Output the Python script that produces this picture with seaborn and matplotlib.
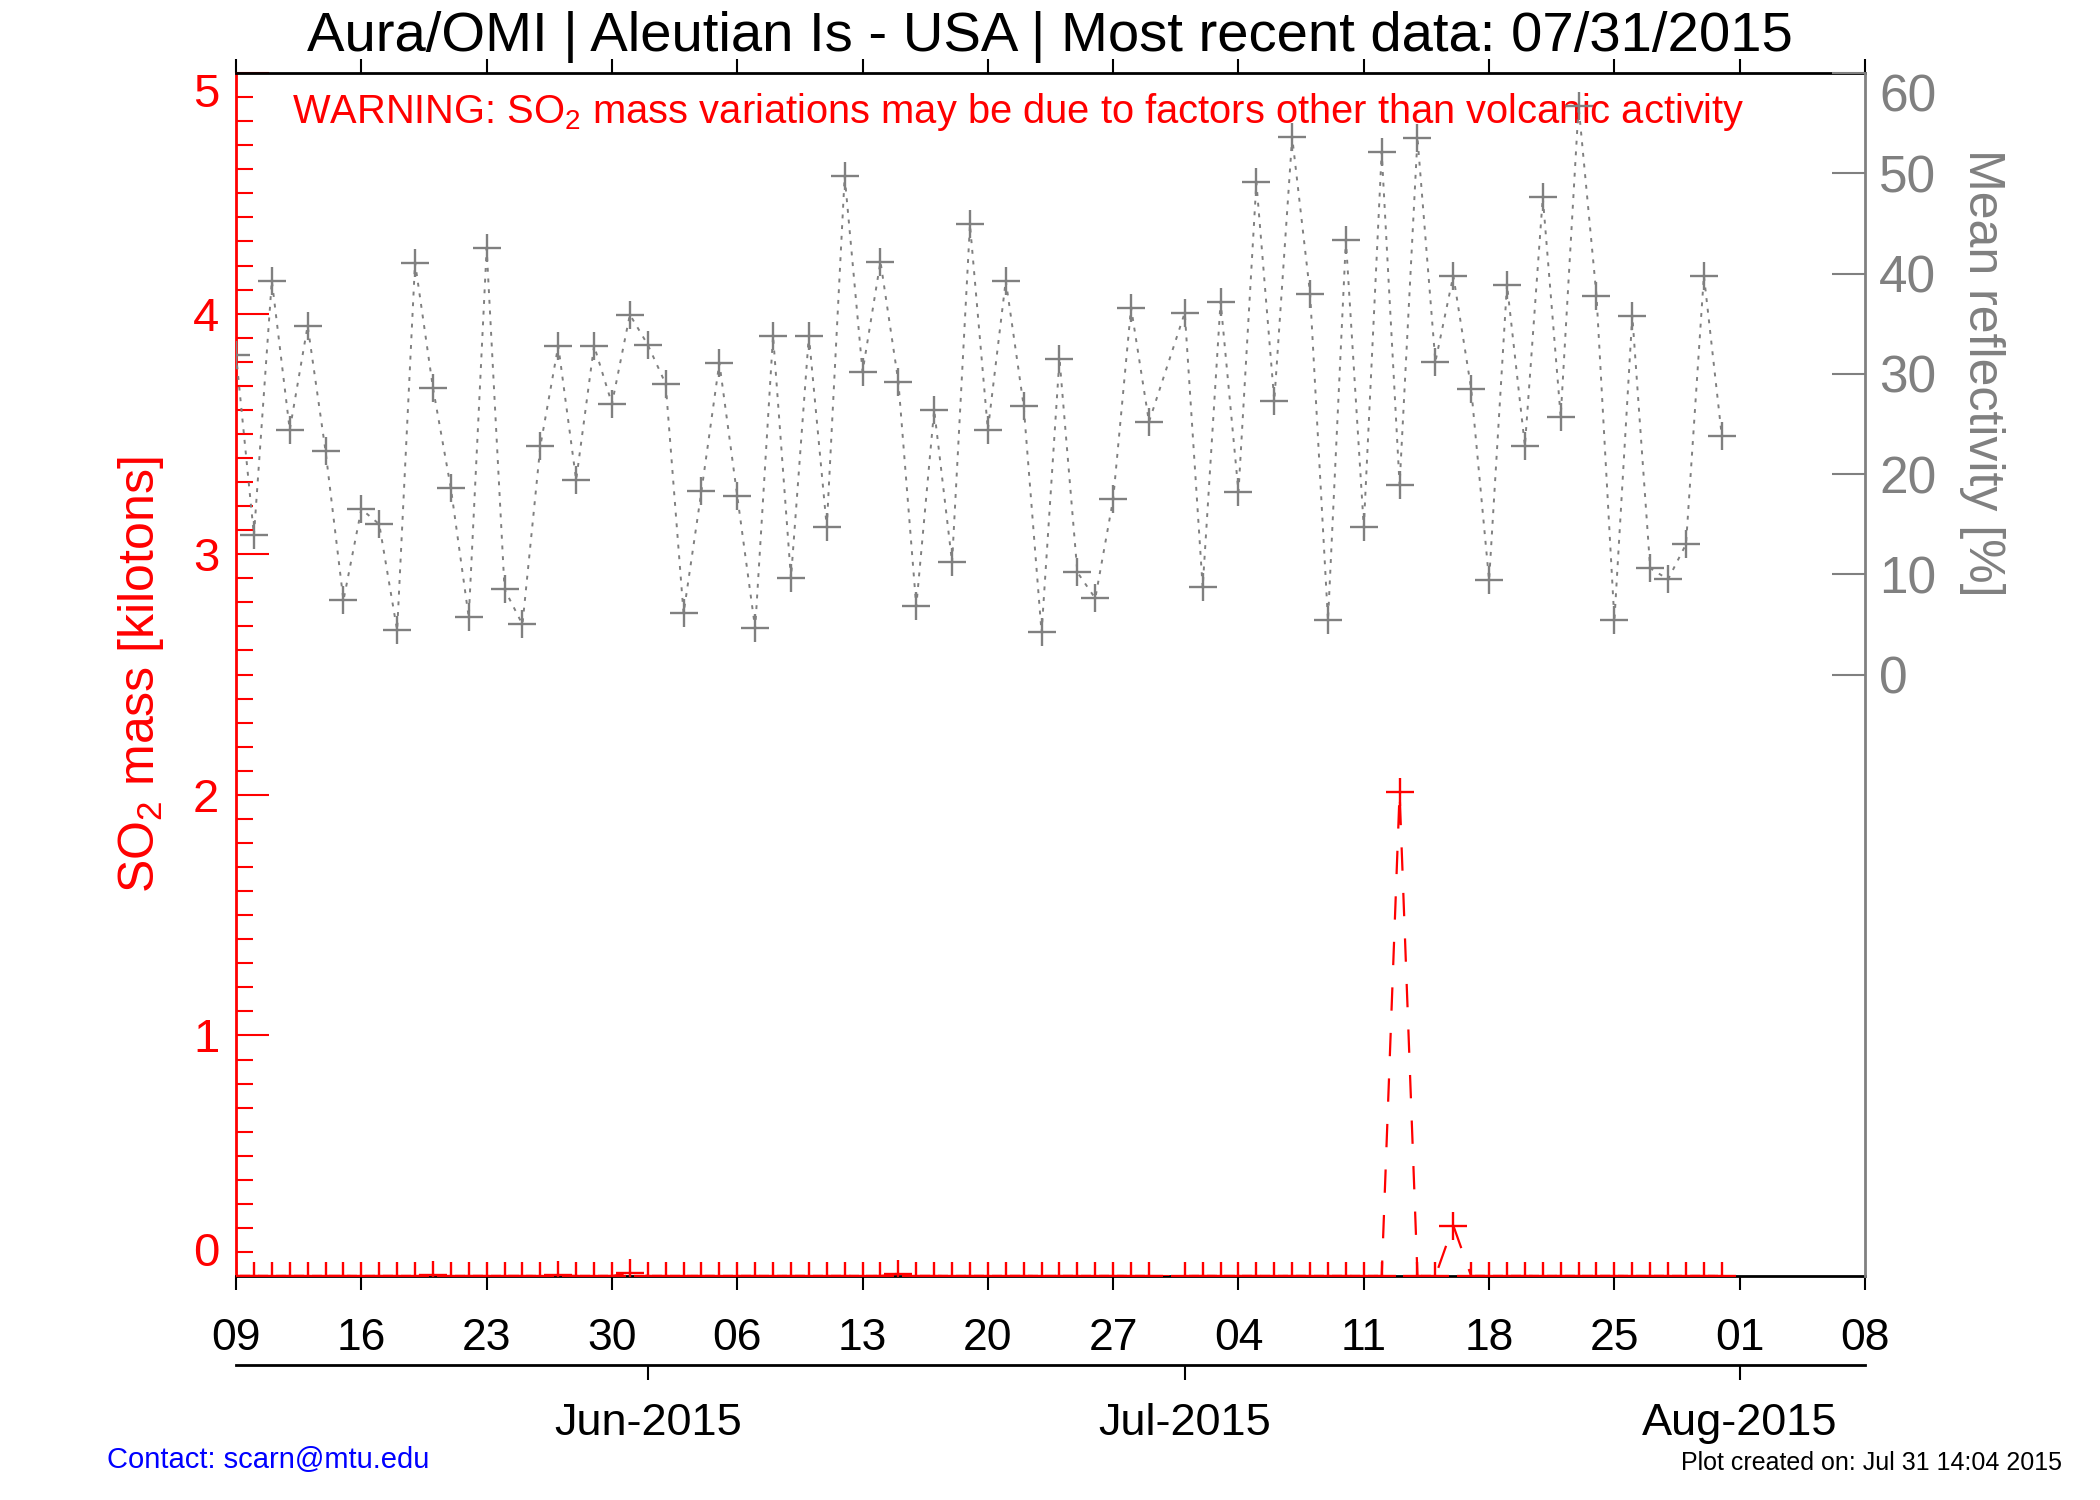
import pandas as pd
import matplotlib
matplotlib.use('Agg')
import matplotlib.pyplot as plt
import matplotlib.dates as mdates
from matplotlib.ticker import MultipleLocator
import seaborn as sns

# ---- data ----
first_day = '2015-05-09'
last_day = '2015-07-31'
missing_days = ['2015-06-30']          # no OMI overpass that day

# mean reflectivity [%] (right axis)
refl_may = [31.9, 13.9, 39.3, 24.4, 34.8, 22.3, 7.4, 16.5, 15.0, 4.4, 41.1, 28.6,
            18.6, 5.7, 42.5, 8.5, 5.0, 22.8, 32.8, 19.4, 32.8, 27.0, 35.9]
refl_jun = [32.9, 29.0, 6.1, 18.3, 31.1, 17.8, 4.6, 33.8, 9.6, 33.8, 14.7, 49.7,
            30.2, 41.2, 29.2, 6.8, 26.4, 11.2, 44.9, 24.4, 39.3, 26.8, 4.2,
            31.5, 10.2, 7.6, 17.5, 36.6, 25.2]
refl_jul = [36.1, 8.7, 37.2, 18.2, 49.1, 27.3, 53.6, 38.0, 5.4, 43.3, 14.7, 52.1,
            18.9, 53.5, 31.2, 39.8, 28.5, 9.4, 38.9, 22.8, 47.6, 25.7, 56.7, 37.8,
            5.4, 35.8, 10.6, 9.5, 13.0, 39.8, 23.8]

# SO2 mass [kilotons] (left axis)
so2_may = [0, 0, 0, 0, 0, 0, 0, 0, 0, 0, 0, 0.003, 0, 0, 0, 0, 0, 0, 0.003,
           0, 0, 0, 0.014]
so2_jun = [0, 0, 0, 0, 0, 0, 0, 0, 0, 0, 0, 0, 0, 0, 0.01, 0, 0, 0, 0, 0, 0, 0,
           0, 0, 0, 0, 0, 0, 0]
so2_jul = [0, 0, 0, 0, 0, 0, 0, 0, 0, 0, 0, 0, 2.01, 0, 0, 0.21, 0, 0, 0, 0, 0,
           0, 0, 0, 0, 0, 0, 0, 0, 0, 0]

week_ticks = pd.date_range('2015-05-09', '2015-08-08', freq='7D')
month_ticks = ['2015-06-01', '2015-07-01', '2015-08-01']

title = 'Aura/OMI | Aleutian Is - USA | Most recent data: 07/31/2015'
warning = 'WARNING: SO$_2$ mass variations may be due to factors other than volcanic activity'

# ---- style ----
sns.set_style('white')
plt.rcParams['font.family'] = ['Liberation Sans', 'DejaVu Sans']
plt.rcParams['mathtext.default'] = 'regular'
plt.rcParams['text.color'] = 'black'
plt.rcParams['axes.labelcolor'] = 'black'
plt.rcParams['xtick.color'] = 'black'

days = pd.date_range(first_day, last_day, freq='D')
days = days[~days.isin(pd.to_datetime(missing_days))]
df = pd.DataFrame({'date': days,
                   'so2': so2_may + so2_jun + so2_jul,
                   'refl': refl_may + refl_jun + refl_jul})

fig = plt.figure(figsize=(21, 15), dpi=100)
ax = fig.add_axes([0.1124, 0.1493, 0.7757, 0.8020])
ax2 = ax.twinx()

# SO2 mass, red dashed
sns.lineplot(data=df, x='date', y='so2', ax=ax, color='red', lw=1.6,
             linestyle=(0, (10.5, 10)), marker='+', markersize=19.5,
             markeredgewidth=1.7, markeredgecolor='red', zorder=3)
# reflectivity, gray dotted
sns.lineplot(data=df, x='date', y='refl', ax=ax2, color='gray', lw=1.4,
             linestyle=(0, (2, 3.5)), marker='+', markersize=19.5,
             markeredgewidth=1.7, markeredgecolor='gray')

ax.set_xlim(pd.Timestamp('2015-05-09'), pd.Timestamp('2015-08-08'))
ax.set_ylim(0, 5)
ax2.set_ylim(-60, 60)

# x axis (days)
ax.set_xticks(week_ticks)
ax.xaxis.set_major_formatter(mdates.DateFormatter('%d'))
ax.tick_params(axis='x', which='major', direction='out', length=10, width=1.5,
               color='black', labelcolor='black', labelsize=32, pad=20,
               top=True, bottom=True, labeltop=False)
ax.set_xlabel('')

# left axis
ax.set_yticks(range(6))
ax.yaxis.set_minor_locator(MultipleLocator(0.1))
ax.tick_params(axis='y', which='major', direction='in', length=24, width=1.5,
               color='red', labelcolor='red', labelsize=34, pad=12,
               left=True, right=False)
ax.tick_params(axis='y', which='minor', direction='in', length=12, width=1.5,
               color='red', left=True, right=False)
left_ticks = ax.yaxis.get_major_ticks()
left_ticks[0].label1.set_va('bottom')
left_ticks[-1].label1.set_va('top')
ax.set_ylabel('SO$_2$ mass [kilotons]', color='red', fontsize=36, va='center')
ax.yaxis.set_label_coords(-0.0586, 0.5)

# right axis
ax2.set_yticks(range(0, 61, 10))
ax2.tick_params(axis='y', direction='in', length=24, width=1.5, color='gray',
                labelcolor='gray', labelsize=37, pad=10)
ax2.yaxis.get_major_ticks()[-1].label2.set_va('top')
ax2.set_ylabel('Mean reflectivity [%]', color='gray', fontsize=36,
               rotation=270, va='center')
ax2.yaxis.set_label_coords(1.072, 0.751)

for side in ['top', 'bottom']:
    ax.spines[side].set_color('black')
    ax.spines[side].set_linewidth(2)
ax.spines['left'].set_color('red')
ax.spines['left'].set_linewidth(2)
ax.spines['right'].set_visible(False)
for side in ['left', 'top', 'bottom']:
    ax2.spines[side].set_visible(False)
ax2.spines['right'].set_color('gray')
ax2.spines['right'].set_linewidth(2)

# month axis below
month_ax = ax.secondary_xaxis(-0.074)
month_ax.set_xticks(mdates.date2num(pd.to_datetime(month_ticks)))
month_ax.xaxis.set_major_formatter(mdates.DateFormatter('%b-%Y'))
month_ax.tick_params(direction='out', length=11, width=1.5, labelsize=32.5, pad=16,
                     color='black', labelcolor='black')
month_ax.spines['bottom'].set_linewidth(2)
month_ax.spines['bottom'].set_color('black')

ax.text(0.0344, 0.968, warning, transform=ax.transAxes, color='red',
        fontsize=28.7, ha='left', va='center')
fig.text(0.5, 0.966, title, ha='center', va='baseline', fontsize=40.5)
fig.text(0.051, 0.0268, 'Contact: scarn@mtu.edu', color='blue', fontsize=21,
         va='center')
fig.text(0.982, 0.025, 'Plot created on: Jul 31 14:04 2015', ha='right',
         va='center', fontsize=18)

fig.savefig('out.png', dpi=100)
